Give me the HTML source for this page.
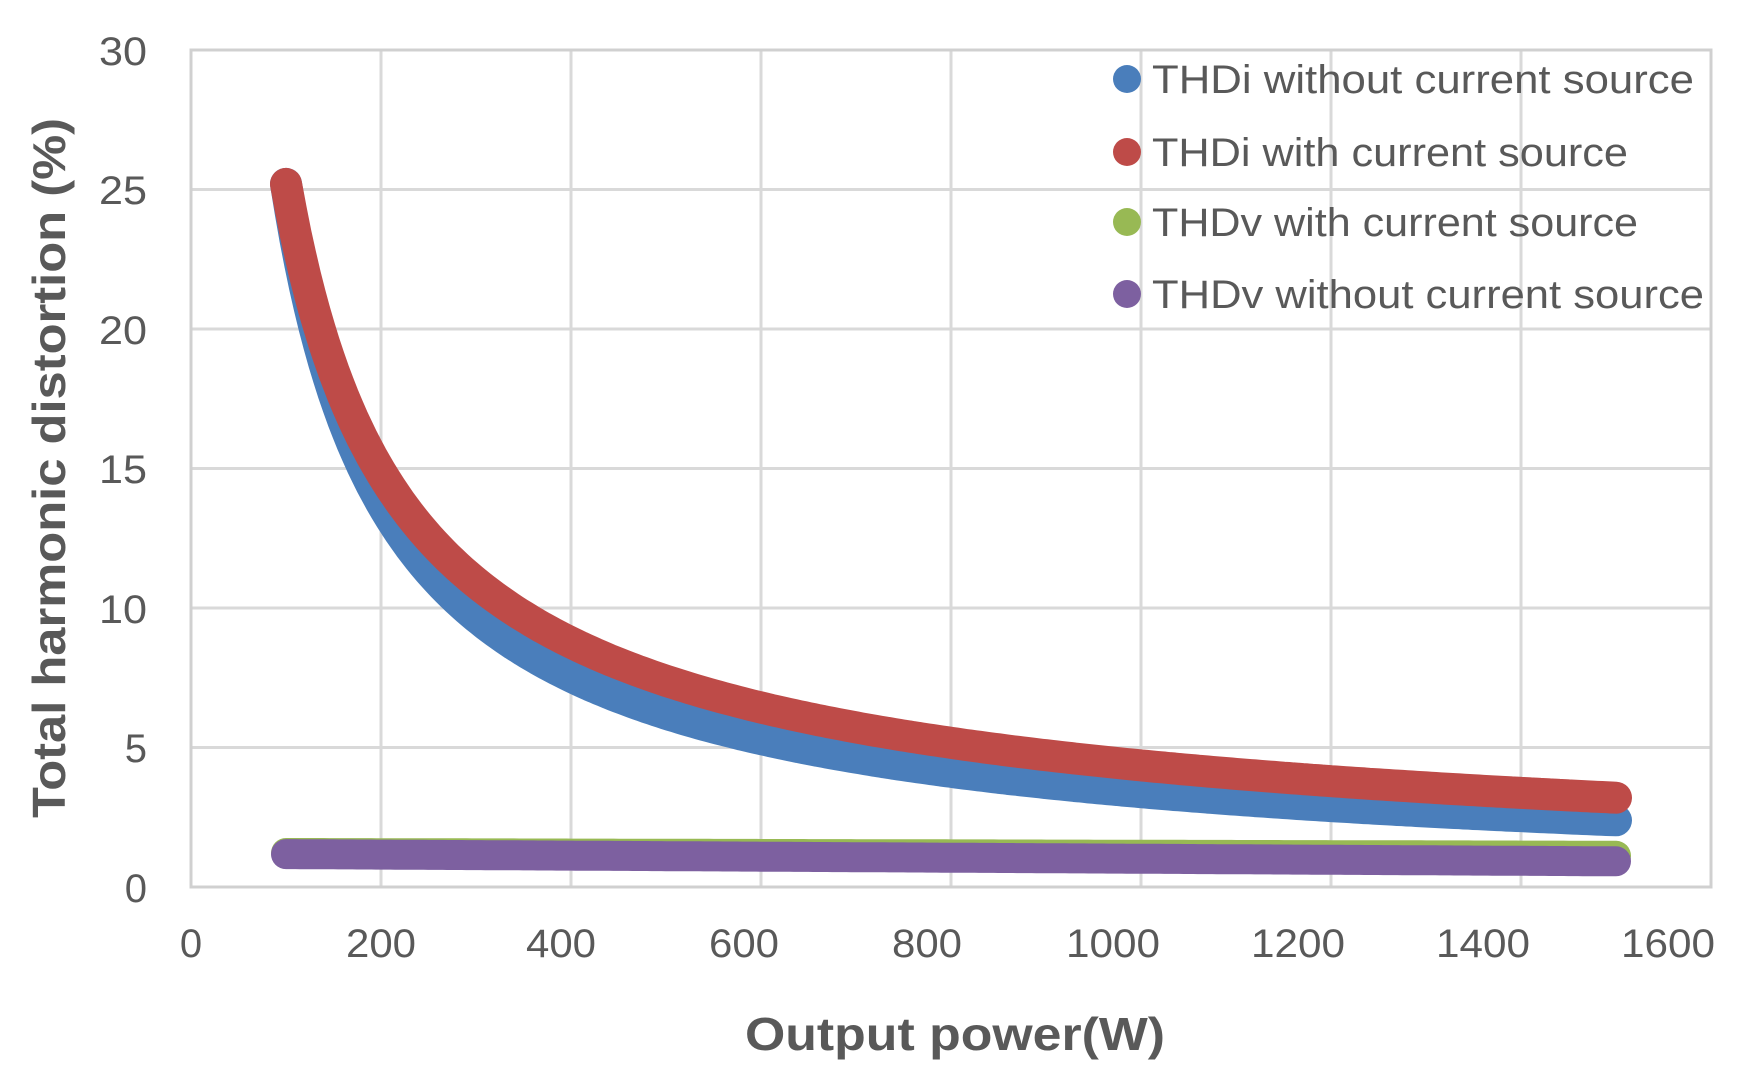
<!DOCTYPE html>
<html><head><meta charset="utf-8"><style>
html,body{margin:0;padding:0;background:#fff;}
svg{display:block;}
text{font-family:"Liberation Sans",sans-serif;fill:#595959;}
</style></head><body>
<svg id="s" width="1738" height="1083" viewBox="0 0 1738 1083" xmlns="http://www.w3.org/2000/svg">
<rect width="1738" height="1083" fill="#fff"/>
<g id="grid" stroke="#d9d9d9" stroke-width="3" fill="none"></g>
<rect x="191" y="50" width="1520" height="837" fill="none" stroke="#d0d0d0" stroke-width="3"/>
<g id="series" fill="none" stroke-linecap="round" stroke-linejoin="round" stroke-width="30"></g>
<g font-size="40" text-anchor="end">
<text x="147" y="902">0</text><text x="147" y="762">5</text><text x="147" y="623" textLength="48" lengthAdjust="spacingAndGlyphs">10</text>
<text x="147" y="483" textLength="48" lengthAdjust="spacingAndGlyphs">15</text><text x="147" y="344" textLength="48" lengthAdjust="spacingAndGlyphs">20</text><text x="147" y="204" textLength="48" lengthAdjust="spacingAndGlyphs">25</text><text x="147" y="65" textLength="48" lengthAdjust="spacingAndGlyphs">30</text>
</g>
<g font-size="40" text-anchor="middle">
<text x="191" y="957">0</text><text x="381" y="957" textLength="70" lengthAdjust="spacingAndGlyphs">200</text><text x="561" y="957" textLength="70" lengthAdjust="spacingAndGlyphs">400</text><text x="744" y="957" textLength="70" lengthAdjust="spacingAndGlyphs">600</text>
<text x="927" y="957" textLength="70" lengthAdjust="spacingAndGlyphs">800</text><text x="1113" y="957" textLength="94" lengthAdjust="spacingAndGlyphs">1000</text><text x="1298" y="957" textLength="94" lengthAdjust="spacingAndGlyphs">1200</text><text x="1483" y="957" textLength="94" lengthAdjust="spacingAndGlyphs">1400</text><text x="1668" y="957" textLength="94" lengthAdjust="spacingAndGlyphs">1600</text>
</g>
<text x="955" y="1050" font-size="46" font-weight="bold" text-anchor="middle" textLength="420" lengthAdjust="spacingAndGlyphs">Output power(W)</text>
<text transform="translate(65,468) rotate(-90)" font-size="46" font-weight="bold" text-anchor="middle" textLength="700" lengthAdjust="spacingAndGlyphs">Total harmonic distortion (%)</text>
<g font-size="40">
<circle cx="1127" cy="79" r="14" fill="#4a7ebb"/><text x="1152" y="93" textLength="542" lengthAdjust="spacingAndGlyphs">THDi without current source</text>
<circle cx="1127" cy="152" r="14" fill="#be4b48"/><text x="1152" y="166" textLength="476" lengthAdjust="spacingAndGlyphs">THDi with current source</text>
<circle cx="1127" cy="222" r="14" fill="#98b954"/><text x="1152" y="236" textLength="486" lengthAdjust="spacingAndGlyphs">THDv with current source</text>
<circle cx="1127" cy="294" r="14" fill="#7d60a0"/><text x="1152" y="308" textLength="552" lengthAdjust="spacingAndGlyphs">THDv without current source</text>
</g>
</svg>
<script>
var X=function(v){return 191+v*0.95},Y=function(v){return 887-v*27.9};
var g=document.getElementById('grid'),h='';
for(var i=1;i<8;i++)h+='<line x1="'+X(i*200)+'" y1="50" x2="'+X(i*200)+'" y2="887"/>';
for(var j=1;j<6;j++)h+='<line x1="191" y1="'+Y(j*5)+'" x2="1711" y2="'+Y(j*5)+'"/>';
g.innerHTML=h;
function path(f){var d='';for(var x=100;x<=1500;x+=5){d+=(x==100?'M':'L')+X(x).toFixed(1)+' '+Y(f(x)).toFixed(1);}return d;}
var s=document.getElementById('series');
s.innerHTML=
'<path stroke="#98b954" d="'+path(function(x){return 1.22-0.1*(x-100)/1400})+'"/>'+
'<path stroke="#7d60a0" d="'+path(function(x){return 1.18-0.26*(x-100)/1400})+'"/>'+
'<path stroke="#4a7ebb" stroke-width="32" d="'+path(function(x){return 25.2*Math.pow(x/100,-0.87)})+'"/>'+
'<path stroke="#be4b48" stroke-width="32" d="'+path(function(x){return 25.2*Math.pow(x/100,-0.762)})+'"/>';
</script>
</body></html>
